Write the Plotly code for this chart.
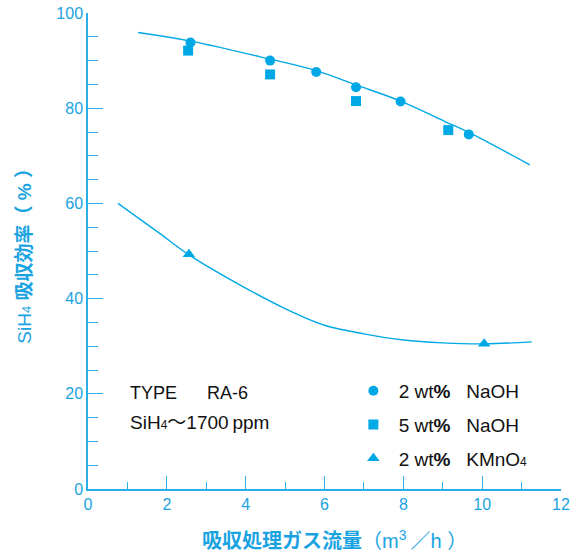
import plotly.graph_objects as go

# ---- data ----
naoh2_x = [2.60, 4.62, 5.79, 6.80, 7.93, 9.66]
naoh2_y = [93.8, 90.0, 87.6, 84.4, 81.4, 74.5]

naoh5_x = [2.54, 4.62, 6.80, 9.14]
naoh5_y = [92.1, 87.1, 81.5, 75.4]

kmno4_x = [2.56, 10.05]
kmno4_y = [49.3, 30.5]

upper_curve_x = [1.27, 2.60, 4.62, 5.79, 6.80, 7.93, 9.06, 9.66, 11.21]
upper_curve_y = [95.9, 94.1, 90.3, 87.9, 84.9, 81.5, 77.2, 74.9, 68.1]

lower_curve_x = [0.76, 1.8, 2.56, 3.85, 5.0, 6.0, 7.0, 8.0, 9.0, 10.05, 11.26]
lower_curve_y = [60.0, 53.8, 49.2, 42.9, 37.9, 34.4, 32.6, 31.3, 30.7, 30.5, 30.9]

x_ticks = [0, 2, 4, 6, 8, 10, 12]
y_ticks = [0, 20, 40, 60, 80, 100]

BLUE = "#00A9E6"
AXIS = "#2AAEE6"
TXT = "#1AA3E1"
FONT = "Liberation Sans, Arial, Noto Sans CJK JP, sans-serif"
NB = "\u00a0"
SUB4 = "<span style='font-size:12px'>4</span>"

fig = go.Figure()

fig.add_trace(go.Scatter(x=upper_curve_x, y=upper_curve_y, mode="lines",
                         line=dict(color=BLUE, width=1.4, shape="spline", smoothing=1.0),
                         showlegend=False, hoverinfo="skip"))
fig.add_trace(go.Scatter(x=lower_curve_x, y=lower_curve_y, mode="lines",
                         line=dict(color=BLUE, width=1.4, shape="spline", smoothing=1.0),
                         showlegend=False, hoverinfo="skip"))

fig.add_trace(go.Scatter(x=naoh2_x, y=naoh2_y, mode="markers",
                         marker=dict(symbol="circle", size=10, color=BLUE),
                         name=NB + "2" + NB + "wt<b>%</b>" + NB * 3 + "NaOH", legendgroup="a"))
fig.add_trace(go.Scatter(x=naoh5_x, y=naoh5_y, mode="markers",
                         marker=dict(symbol="square", size=10, color=BLUE),
                         name=NB + "5" + NB + "wt<b>%</b>" + NB * 3 + "NaOH", legendgroup="b"))
fig.add_trace(go.Scatter(x=kmno4_x, y=kmno4_y, mode="markers",
                         marker=dict(symbol="triangle-up", size=11, color=BLUE),
                         name=NB + "2" + NB + "wt<b>%</b>" + NB * 3 + "KMnO" + SUB4, legendgroup="c"))

fig.update_layout(
    width=576, height=555,
    margin=dict(l=88, r=15, t=13, b=66),
    paper_bgcolor="white", plot_bgcolor="white",
    font=dict(family=FONT, color="#111111", size=18),
    legend=dict(x=0.561, y=0.246, xanchor="left", yanchor="top",
                tracegroupgap=6, bgcolor="rgba(0,0,0,0)",
                font=dict(size=19, color="#111111", family=FONT)),
    xaxis=dict(range=[0, 12], tickvals=x_ticks, showgrid=False, zeroline=False,
               automargin=False,
               showline=True, linecolor=AXIS, linewidth=1.5,
               ticks="inside", ticklen=13, tickcolor=AXIS, tickwidth=1.3,
               minor=dict(dtick=1, tick0=0, ticks="inside", ticklen=7,
                          tickcolor=AXIS, tickwidth=1.3),
               tickfont=dict(size=16, color=TXT, family=FONT)),
    yaxis=dict(range=[0, 100], tickvals=y_ticks, showgrid=False, zeroline=False,
               automargin=False,
               showline=True, linecolor=AXIS, linewidth=1.5,
               ticks="inside", ticklen=15, tickcolor=AXIS, tickwidth=1.3,
               minor=dict(dtick=5, tick0=0, ticks="inside", ticklen=10,
                          tickcolor=AXIS, tickwidth=1.3),
               tickfont=dict(size=16, color=TXT, family=FONT)),
)

fig.add_annotation(xref="paper", yref="paper", x=-0.136, y=0.5,
                   text="SiH" + "<span style='font-size:13px'>4</span>" + NB + "<b>吸収効率（" + NB + "%" + NB + "）</b>",
                   textangle=-90,
                   showarrow=False, xanchor="center", yanchor="middle",
                   font=dict(size=19, color=TXT, family=FONT))
fig.add_annotation(xref="paper", yref="paper", x=0.522, y=-0.1065,
                   text="<b>吸収処理ガス流量</b>（m<sup>3</sup>" + "\u2009" + "／h" + NB + "）",
                   showarrow=False, xanchor="center", yanchor="middle",
                   font=dict(size=20, color=TXT, family=FONT))

fig.add_annotation(xref="paper", yref="paper", x=(128 - 88.3) / 472.7, y=(489.3 - 393) / 476.3,
                   text="TYPE" + NB * 6 + "RA-6", showarrow=False,
                   xanchor="left", yanchor="middle",
                   font=dict(size=18, color="#111111", family=FONT))
fig.add_annotation(xref="paper", yref="paper", x=(128 - 88.3) / 472.7, y=(489.3 - 423) / 476.3,
                   text="SiH" + SUB4 + "～" + "1700" + "\u2009" + "ppm", showarrow=False,
                   xanchor="left", yanchor="middle",
                   font=dict(size=19, color="#111111", family=FONT))

fig.write_html("out.html")
